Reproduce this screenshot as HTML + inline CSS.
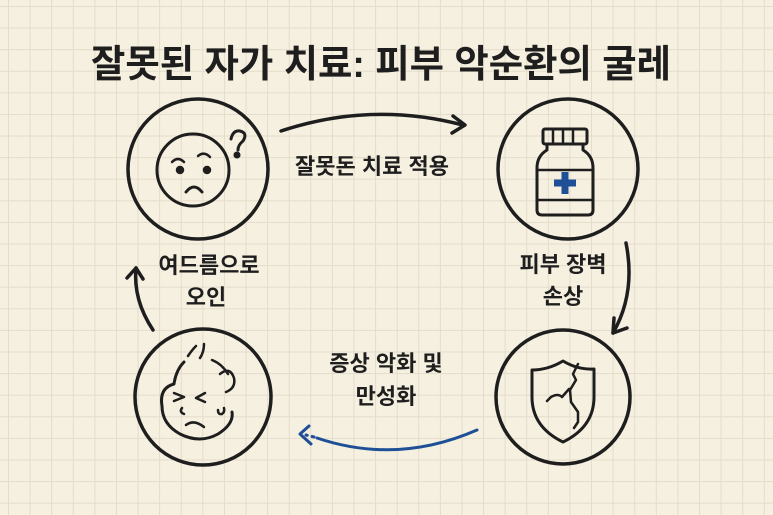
<!DOCTYPE html>
<html><head><meta charset="utf-8"><style>
html,body{margin:0;padding:0;}
body{width:773px;height:515px;overflow:hidden;background:#f6f0e0;
background-image:linear-gradient(#e4dccb 1px,transparent 1px),linear-gradient(90deg,#e4dccb 1px,transparent 1px);
background-size:21.6px 21.6px;background-position:8px 6px;}
svg{position:absolute;left:0;top:0;}
text{font-family:"Liberation Sans","Noto Sans CJK KR","NanumGothic",sans-serif;fill:#1e1e1e;font-weight:bold;}
</style></head><body>
<svg width="773" height="515" viewBox="0 0 773 515" fill="none" stroke="#1e1e1e" stroke-width="3.5" stroke-linecap="round" stroke-linejoin="round">
<text x="381" y="77" font-size="38" text-anchor="middle" stroke="none" textLength="580" lengthAdjust="spacingAndGlyphs">잘못된 자가 치료: 피부 악순환의 굴레</text>
<!-- circles -->
<circle cx="198" cy="169" r="70"/>
<circle cx="568" cy="169" r="70"/>
<circle cx="203" cy="397" r="68"/>
<circle cx="563" cy="397" r="67"/>
<!-- face 1 -->
<circle cx="193" cy="170" r="36" stroke-width="3"/>
<path d="M172 162q6-6 12 0M198 156q6-5 12 1" stroke-width="2.5"/>
<circle cx="180" cy="170" r="2.5" fill="#1e1e1e"/><circle cx="207" cy="170" r="2.5" fill="#1e1e1e"/>
<path d="M186 192q8-10 16 0" stroke-width="3"/>
<path d="M231 139q2-9 9-8q8 2 3 10q-5 4-5 9" stroke-width="3"/><circle cx="237" cy="155" r="1.8" fill="#1e1e1e"/>
<!-- bottle -->
<rect x="543" y="129" width="44" height="15" rx="2" stroke-width="3"/>
<path d="M553 131v11M563 131v11M573 131v11" stroke-width="2.5"/>
<path d="M547 144v6q-10 6-10 18v42q0 5 5 5h46q5 0 5-5v-42q0-12-10-18v-6" stroke-width="3"/>
<path d="M537 170h56M537 200h56" stroke-width="2.5"/>
<path d="M565 172v22M554 183h22" stroke="#1f4f96" stroke-width="7" stroke-linecap="butt"/>
<!-- shield -->
<path d="M532 370q16 0 31-9q15 9 31 8v28q0 30-31 45q-31-15-31-45z" stroke-width="3"/>
<path d="M578 364l-5 10 3 6-6 10 1 12 7 10 0 10-4 6M569 389l-7 8q-4-4-11 0l-4 4" stroke-width="2.5"/>
<!-- stressed face -->
<path d="M184 362q-8 8-10 22q-15 4-12 22q0 18 18 28q20 10 38 0q16-10 14-22" stroke-width="3"/>
<path d="M188 356q4-6 8-10M200 358q4-6 4-14M212 360q10 4 16 14M220 374q10-8 14 4q2 10-8 14" stroke-width="2.5"/>
<path d="M174 393l10 4-10 4M205 393l-9 5 9 4M182 408q-3 4 2 6M218 410q0 5 4 4 3-2 2-6M186 425q8-6 18 2" stroke-width="2.5"/>
<!-- arrows -->
<path d="M281 131q90-30 182-6" />
<path d="M453 116l12 9-13 8"/>
<path d="M626 243q10 50-13 90"/>
<path d="M614 318l-1 15 14-5"/>
<path d="M477 430q-80 35-160 8" stroke="#1f4f96" stroke-width="3"/>
<path d="M314 437l-8-2" stroke="#1f4f96" stroke-width="3" stroke-dasharray="2 5"/>
<path d="M309 426l-9 8 11 10" stroke="#1f4f96" stroke-width="3"/>
<path d="M153 330q-20-30-17-62"/>
<path d="M127 278l9-10 7 11"/>
<!-- labels -->
<g stroke="none" font-size="22">
<text x="372" y="174" text-anchor="middle">잘못돈 치료 적용</text>
<text x="563" y="272" text-anchor="middle">피부 장벽</text>
<text x="563" y="304" text-anchor="middle">손상</text>
<text x="386" y="371" text-anchor="middle">증상 악화 및</text>
<text x="386" y="404" text-anchor="middle">만성화</text>
<text x="209" y="273" text-anchor="middle">여드름으로</text>
<text x="206" y="305" text-anchor="middle">오인</text>
</g>
</svg>
</body></html>
